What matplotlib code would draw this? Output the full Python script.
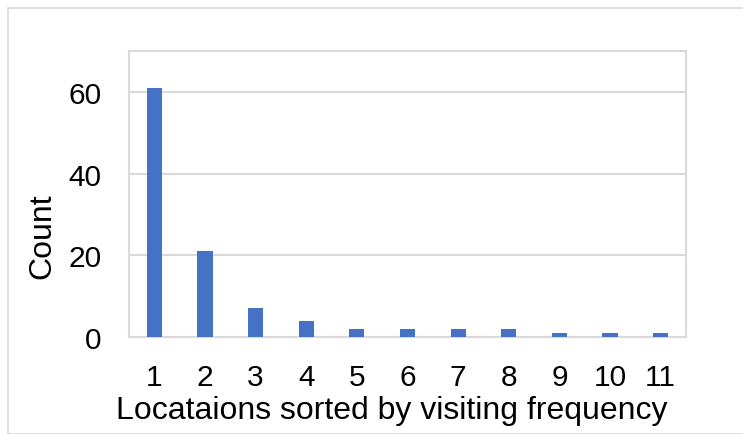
import matplotlib
matplotlib.use("Agg")
import matplotlib.pyplot as plt
from matplotlib.patches import Rectangle

categories = ["1", "2", "3", "4", "5", "6", "7", "8", "9", "10", "11"]
counts = [61, 21, 7, 4, 2, 2, 2, 2, 1, 1, 1]

plt.rcParams['font.family'] = ['Liberation Sans', 'DejaVu Sans']

fig = plt.figure(figsize=(7.43, 4.35), dpi=100)
W, H = 743, 435
# outer chart border
fig.add_artist(Rectangle((8 / W, 0), 1.0, 1 - 9 / H, transform=fig.transFigure,
                         fill=False, edgecolor="#d9d9d9", linewidth=1.2))

ax = fig.add_axes([129 / W, 1 - 338 / H, (686 - 129) / W, (338 - 52) / H])
x = list(range(len(categories)))
ax.bar(x, counts, width=0.3, color="#4472C4", zorder=3)
ax.set_xlim(-0.5, len(categories) - 0.5)
ax.set_ylim(0, 70)
ax.set_yticks([0, 20, 40, 60])
ax.set_xticks(x)
ax.set_xticklabels(categories)
ax.yaxis.grid(True, color="#d9d9d9", linewidth=1.5, zorder=0)
for s in ax.spines.values():
    s.set_color("#d9d9d9")
    s.set_linewidth(1.5)
fs = 21.5
ax.tick_params(axis="both", length=0, labelsize=fs, colors="black")
ax.tick_params(axis="y", pad=20)
ax.tick_params(axis="x", pad=19)
ax.set_xlabel("Locataions sorted by visiting frequency", fontsize=23)
ax.set_ylabel("Count", fontsize=23)
ax.xaxis.set_label_coords((392 - 129) / 557, (338 - 396) / 286)
ax.yaxis.set_label_coords((57 - 129) / 557, (338 - 236) / 286)

fig.savefig("out.png", dpi=100)
